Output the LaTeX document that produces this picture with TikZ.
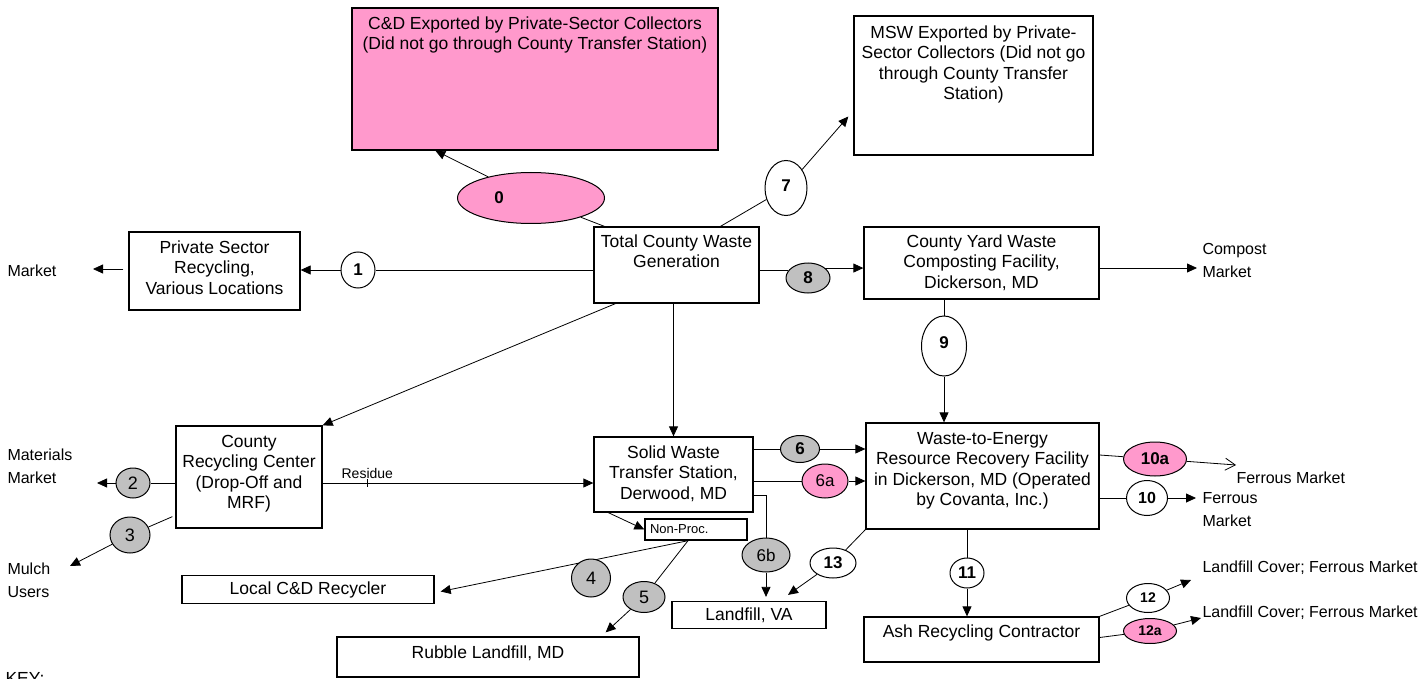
\documentclass[tikz,border=0pt]{standalone}
\usepackage{fontspec}
\setmainfont{Liberation Sans}
\usetikzlibrary{positioning,shapes.geometric,arrows.meta,backgrounds}
\definecolor{oval pink}{HTML}{FF99CC}
\definecolor{oval grey}{HTML}{C0C0C0}

\begin{document}
\begin{tikzpicture}[x=0.5pt, y=-0.5pt, line width=0.5pt,
				box/.style={draw, fill=white, line width=0.65pt, align=center, inner sep=3pt, font=\fontsize{8.75}{10.2}\selectfont},
				oval/.style={ellipse, draw, fill=white, inner sep=0pt, font=\bfseries\fontsize{8.5}{10}\selectfont},
				greyoval/.style={oval, fill=oval grey, font=\fontsize{9}{10}\selectfont},
				pinkoval/.style={oval, fill=oval pink},
				lbl/.style={align=left, inner sep=2pt, font=\fontsize{8}{11.5}\selectfont},
				arr/.style={-{Triangle[length=5pt,width=4.5pt]}},
				openarr/.style={-{Straight Barb[length=5pt,width=6pt]}}]
				\useasboundingbox (0,0) rectangle (1428,679);
				{
					\node (CDExport) [box, fill=oval pink, minimum width=183pt, text height=17.85pt, text depth=47.15pt] at (535,79) {C\&D Exported by Private-Sector Collectors\\(Did not go through County Transfer Station)};
					\node (MSW) [box, minimum width=119.5pt, text height=38.75pt, text depth=24.75pt] at (973.5,85.5) {MSW Exported by Private-\\Sector Collectors (Did not go\\through County Transfer\\Station)};
					\node (Private) [box, minimum width=85.5pt, text height=28.05pt, text depth=4.95pt] at (214.5,271) {Private Sector\\Recycling,\\Various Locations};
					\node (Total) [box, minimum width=82.5pt, text height=17.35pt, text depth=14.65pt] at (676.5,265) {Total County Waste\\Generation};
					\node (Comp) [box, minimum width=117.5pt, text height=27.55pt, text depth=2.45pt] at (981.5,263) {County Yard Waste\\Composting Facility,\\Dickerson, MD};
					\node (CRC) [box, minimum width=73pt, text height=38.25pt, text depth=6.75pt] at (249,477) {County\\Recycling Center\\(Drop-Off and\\MRF)};
					\node (SW) [box, minimum width=79.5pt, text height=28.05pt, text depth=3.45pt] at (673.5,474.5) {Solid Waste\\Transfer Station,\\Derwood, MD};
					\node (WTE) [box, minimum width=116.5pt, text height=38.25pt, text depth=8.75pt] at (982.5,476) {Waste-to-Energy\\Resource Recovery Facility\\in Dickerson, MD (Operated\\by Covanta, Inc.)};
					\node (Ash) [box, minimum width=117.5pt, text height=7.15pt, text depth=9.35pt] at (981.5,639.5) {Ash Recycling Contractor};
					\node (NonProc) [box, inner xsep=2.5pt, text width=46pt, align=left, minimum height=10.5pt, font=\fontsize{6.5}{7}\selectfont] at (696,529.5) {Non-Proc.};
					\node (Local) [box, minimum width=126pt, minimum height=12.5pt] at (308,589.5) {Local C\&D Recycler};
					\node (LandVA) [box, minimum width=77pt, minimum height=13pt] at (749,615) {Landfill, VA};
					\node (Rubble) [box, minimum width=151pt, text height=7.65pt, text depth=6.35pt] at (488,657) {Rubble Landfill, MD};

					\node (O0) [pinkoval, minimum width=73.5pt, minimum height=25.5pt, label={[xshift=-16pt, font=\bfseries\fontsize{8.5}{10}\selectfont]center:0}] at (531,198) {};
					\node (O1) [oval, minimum width=17pt, minimum height=18pt] at (358,270) {1};
					\node (O2) [greyoval, minimum width=17pt, minimum height=15pt] at (133,483) {2};
					\node (O3) [greyoval, minimum width=20pt, minimum height=18pt] at (130,535) {3};
					\node (O4) [greyoval, minimum width=19.5pt, minimum height=19pt] at (591,578) {4};
					\node (O5) [greyoval, minimum width=21pt, minimum height=15.5pt] at (644,597) {5};
					\node (O6) [greyoval, minimum width=19.5pt, minimum height=13.5pt, font=\bfseries\fontsize{8.5}{10}\selectfont] at (800,449) {6};
					\node (O6a) [pinkoval, minimum width=23pt, minimum height=17pt, font=\fontsize{8.5}{10}\selectfont] at (825,481) {6a};
					\node (O6b) [greyoval, minimum width=24pt, minimum height=17pt, font=\fontsize{8.5}{10}\selectfont] at (766,555) {6b};
					\node (O7) [oval, minimum width=21pt, minimum height=27.5pt] at (786,188) {\raisebox{2.5pt}{7}};
					\node (O8) [greyoval, minimum width=22pt, minimum height=15pt, font=\bfseries\fontsize{8.5}{10}\selectfont] at (808,278) {8};
					\node (O9) [oval, minimum width=22.5pt, minimum height=30pt] at (944,346) {\raisebox{3.5pt}{9}};
					\node (O10) [oval, minimum width=20.5pt, minimum height=17.5pt, font=\bfseries\fontsize{8}{10}\selectfont] at (1147,498) {10};
					\node (O10a) [pinkoval, minimum width=31.5pt, minimum height=17pt] at (1155,459) {10a};
					\node (O11) [oval, minimum width=17pt, minimum height=15pt] at (967,573) {11};
					\node (O12) [oval, minimum width=21.5pt, minimum height=14.5pt, font=\bfseries\fontsize{7}{8}\selectfont] at (1148,598) {12};
					\node (O12a) [pinkoval, minimum width=26.5pt, minimum height=12.5pt, font=\bfseries\fontsize{7}{8}\selectfont] at (1150,631) {12a};
					\node (O13) [oval, minimum width=23pt, minimum height=15pt] at (833,563) {13};

					\node (Mkt) [lbl, anchor=west] at (3,271) {Market};
					\node (MatMkt) [lbl, anchor=west] at (3,466) {Materials\\Market};
					\node (Mulch) [lbl, anchor=west] at (3,580) {Mulch\\Users};
					\node (CompMkt) [lbl, anchor=west] at (1198,260) {Compost\\Market};
					\node (FerrA) [lbl, anchor=west] at (1232,478) {Ferrous Market};
					\node (FerrB) [lbl, anchor=west] at (1198,510) {Ferrous\\Market};
					\node (CoverA) [lbl, anchor=west] at (1198,568) {Landfill Cover; Ferrous Market};
					\node (CoverB) [lbl, anchor=west] at (1198,613) {Landfill Cover; Ferrous Market};
					\node (Key) [anchor=north west, inner sep=0pt, font=\fontsize{8.75}{10}\selectfont] at (5,672) {KEY:};

					\coordinate (MktTip) at (93,269);
					\coordinate (MatTip) at (97,483);
					\coordinate (MulchTip) at (70,566);
					\coordinate (CompTip) at (1197,268);
					\coordinate (FerrTipA) at (1236,465);
					\coordinate (FerrTipB) at (1196,498);
					\coordinate (CoverTipA) at (1191,580);
					\coordinate (CoverTipB) at (1201,618);
				}
				\begin{scope}[on background layer]
					\draw ([shift={(11,0)}]Total.north west) -- (O0);
					\draw[arr] (O0) -- ([shift={(84,0)}]CDExport.south west);
					\draw (Total.west |- O1) -- (O1);
					\draw[arr] (O1) -- (Private.east |- O1);
					\draw[arr] ([shift={(-5,-2)}]Private.west) -- (MktTip);
					\draw ([shift={(44,0)}]Total.north) -- (O7);
					\draw[arr] (O7) -- ([shift={(-5,31)}]MSW.west);
					\draw (O8.160 -| Total.east) -- (O8.160);
					\draw[arr] (O8.30) -- (O8.30 -| Comp.west);
					\draw[arr] ([shift={(0,5)}]Comp.east) -- (CompTip);
					\draw (O9 |- Comp.south) -- (O9);
					\draw[arr] (O9) -- (O9 |- WTE.north);
					\draw[arr] ([shift={(22,0)}]Total.south west) -- (CRC.north east);
					\draw[arr] (SW.north |- Total.south) -- (SW.north);
					\draw (O2 -| CRC.west) -- (O2);
					\draw[arr] (O2) -- (MatTip);
					\draw ([shift={(-3,-12)}]CRC.south west) -- (O3);
					\draw[arr] (O3) -- (MulchTip);
					\draw[arr] (CRC.east |- O2) -- (SW.west |- O2) coordinate[pos=0.165] (Tick);
					\draw ([shift={(0,-4)}]Tick) -- ([shift={(0,4)}]Tick);
					\node (Residue) [above, inner sep=2pt, font=\fontsize{7}{8}\selectfont] at (Tick) {Residue};
					\draw[arr] ([shift={(15,0)}]SW.south west) -- (NonProc.west);
					\draw[arr] ([shift={(-8,0)}]NonProc.south) -- ([shift={(6,2)}]Local.east);
					\draw ([shift={(-8,0)}]NonProc.south) -- (O5);
					\draw[arr] (O5) -- ([shift={(-34,-4)}]Rubble.north east);
					\draw (O6 -| SW.east) -- (O6);
					\draw[arr] (O6) -- (O6 -| WTE.west);
					\draw (O6a -| SW.east) -- (O6a);
					\draw[arr] (O6a) -- (O6a -| WTE.west);
					\draw ([shift={(0,21)}]SW.east) -| (O6b);
					\draw[arr, shorten >=2pt] (O6b) -- (O6b |- LandVA.north);
					\draw (WTE.south west) -- (O13);
					\draw[arr] (O13) -- ([shift={(39,-6)}]LandVA.north);
					\draw ([shift={(0,-21)}]WTE.east) -- (O10a);
					\draw[openarr] (O10a) -- (FerrTipA);
					\draw (O10 -| WTE.east) -- (O10);
					\draw[arr] (O10) -- (FerrTipB);
					\draw (O11 |- WTE.south) -- (O11);
					\draw[arr] (O11) -- (O11 |- Ash.north);
					\draw (Ash.north east) -- (O12);
					\draw[arr] (O12) -- (CoverTipA);
					\draw ([shift={(0,-2)}]Ash.east) -- (O12a);
					\draw[arr] (O12a) -- (CoverTipB);
				\end{scope}
\end{tikzpicture}
\end{document}
